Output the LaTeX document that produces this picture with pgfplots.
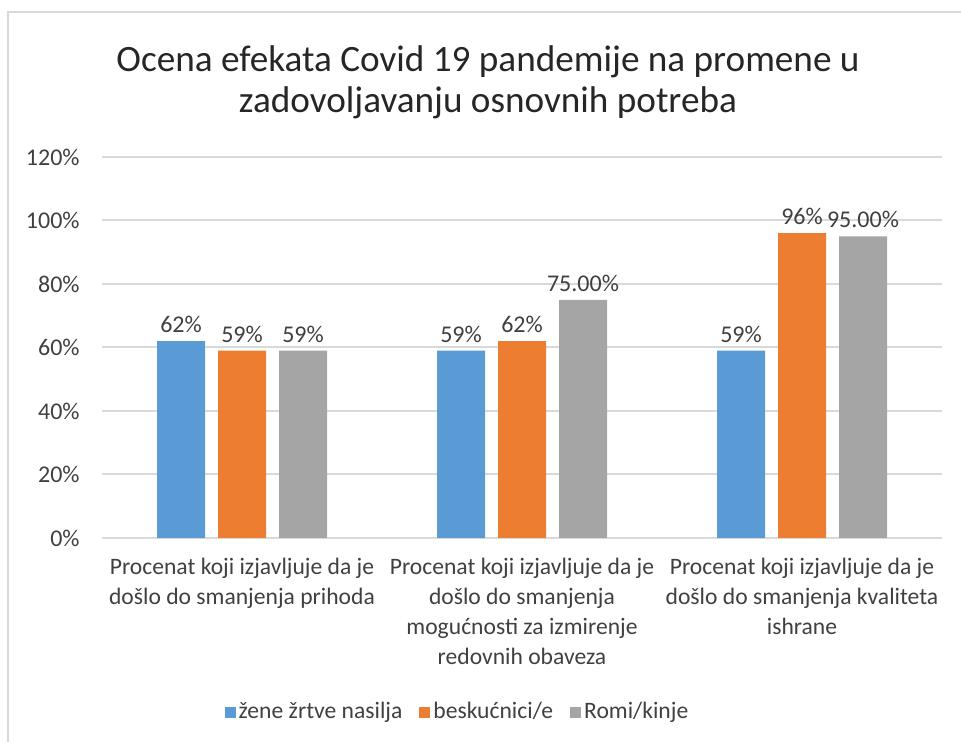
\documentclass[border=0pt]{standalone}
\usepackage{pgfplots}
\pgfplotsset{compat=1.18}
\usepackage{fontspec}
\setmainfont{Carlito}

\definecolor{cblue}{HTML}{5B9BD5}
\definecolor{corange}{HTML}{ED7D31}
\definecolor{cgray}{HTML}{A5A5A5}
\definecolor{gridc}{HTML}{D9D9D9}
\definecolor{txt}{HTML}{404040}
\definecolor{ttl}{HTML}{262626}

\begin{document}
\begin{tikzpicture}
\useasboundingbox (-51pt,-102pt) rectangle (429.5pt,269pt);
% chart frame (only top and left edges are visible)
\draw[gridc, line width=1pt] (-47pt,-102pt) -- (-47pt,263pt) -- (429.5pt,263pt);

\begin{axis}[
    scale only axis,
    width=420pt,
    height=190.5pt,
    xmin=-0.5, xmax=2.5,
    ymin=0, ymax=120,
    ybar=6.5pt,
    bar width=24pt,
    xtick=data,
    xticklabels={
        {Procenat koji izjavljuje da je\\došlo do smanjenja prihoda},
        {Procenat koji izjavljuje da je\\došlo do smanjenja\\mogućnosti za izmirenje\\redovnih obaveza},
        {Procenat koji izjavljuje da je\\došlo do smanjenja kvaliteta\\ishrane}
    },
    xticklabel style={align=center, font=\fontsize{11.8}{15}\selectfont, text=txt,
        anchor=north, inner sep=0pt, yshift=-10pt},
    ytick={0,20,40,60,80,100,120},
    yticklabel={\pgfmathprintnumber{\tick}\%},
    yticklabel style={font=\fontsize{12}{14}\selectfont, text=txt, anchor=east,
        inner sep=0pt, xshift=-11pt},
    /pgf/number format/assume math mode=true,
    major tick length=0pt,
    ymajorgrids,
    grid style={gridc, line width=1pt},
    axis line style={draw=none},
    point meta=explicit symbolic,
    nodes near coords={\pgfplotspointmeta},
    nodes near coords style={font=\fontsize{12}{14}\selectfont, text=txt,
        anchor=south, inner sep=0pt, yshift=4pt},
    legend style={
        at={(0.4238,-0.4567)},
        anchor=center,
        draw=none,
        fill=none,
        legend columns=3,
        font=\fontsize{11.8}{14}\selectfont,
        text=txt,
        nodes={inner xsep=1.5pt},
        /tikz/every even column/.append style={column sep=7pt},
    },
    legend image code/.code={\fill[#1] (0pt,-2.75pt) rectangle (5.5pt,2.75pt);},
]

\addplot[fill=cblue, draw=none] coordinates {
    (0,62) [62\%]
    (1,59) [59\%]
    (2,59) [59\%]
};
\addlegendentry{žene žrtve nasilja}

\addplot[fill=corange, draw=none] coordinates {
    (0,59) [59\%]
    (1,62) [62\%]
    (2,96) [96\%]
};
\addlegendentry{beskućnici/e}

\addplot[fill=cgray, draw=none] coordinates {
    (0,59) [59\%]
    (1,75) [75.00\%]
    (2,95) [95.00\%]
};
\addlegendentry{Romi/kinje}

\end{axis}

\node[align=center, text=ttl, font=\fontsize{18.6}{20.5}\selectfont] at (193pt,227.75pt)
    {Ocena efekata Covid 19 pandemije na promene u\\zadovoljavanju osnovnih potreba};
\end{tikzpicture}
\end{document}
